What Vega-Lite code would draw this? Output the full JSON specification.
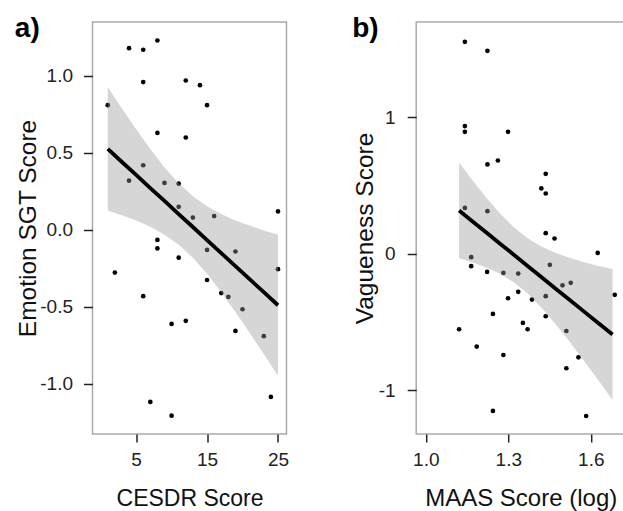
{
  "$schema": "https://vega.github.io/schema/vega-lite/v6.json",
  "padding": {"left": 13.5, "top": 14, "right": 0, "bottom": 0},
  "spacing": 61.7,
  "config": {
    "locale": {"number": {"decimal": ".", "thousands": ",", "grouping": [3], "currency": ["$", ""], "minus": "-"}},
    "view": {"stroke": "#aaaaaa", "strokeWidth": 1.5},
    "font": "Liberation Sans",
    "axis": {"grid": false, "domain": false, "tickColor": "#222222", "tickWidth": 1.5, "labelColor": "#222222", "titleColor": "#111111", "labelFont": "Liberation Sans", "titleFont": "Liberation Sans", "titleFontWeight": "normal", "labelFontSize": 19, "titleFontSize": 24}
  },
  "datasets": {
    "labA": [{"lab": "a)"}],
    "labB": [{"lab": "b)"}],
    "ptsA": [
      {"x": 1, "y": 0.81}, {"x": 4, "y": 1.18}, {"x": 6, "y": 1.17}, {"x": 8, "y": 1.23}, {"x": 6, "y": 0.96},
      {"x": 12, "y": 0.97}, {"x": 14, "y": 0.94}, {"x": 15, "y": 0.81}, {"x": 8, "y": 0.63}, {"x": 12, "y": 0.60},
      {"x": 6, "y": 0.42}, {"x": 4, "y": 0.32}, {"x": 9, "y": 0.305}, {"x": 11, "y": 0.30}, {"x": 11, "y": 0.15},
      {"x": 13, "y": 0.08}, {"x": 16, "y": 0.09}, {"x": 25, "y": 0.12}, {"x": 8, "y": -0.065}, {"x": 8, "y": -0.12},
      {"x": 15, "y": -0.13}, {"x": 19, "y": -0.14}, {"x": 11, "y": -0.18}, {"x": 2, "y": -0.277}, {"x": 25, "y": -0.255},
      {"x": 15, "y": -0.325}, {"x": 6, "y": -0.43}, {"x": 17, "y": -0.41}, {"x": 18, "y": -0.435}, {"x": 20, "y": -0.515},
      {"x": 10, "y": -0.61}, {"x": 12, "y": -0.59}, {"x": 19, "y": -0.656}, {"x": 23, "y": -0.69}, {"x": 7, "y": -1.117},
      {"x": 10, "y": -1.206}, {"x": 24, "y": -1.084}
    ],
    "bandA": [
      {"x": 1, "fit": 0.526, "lo": 0.126, "hi": 0.926},
      {"x": 3, "fit": 0.441, "lo": 0.095, "hi": 0.788},
      {"x": 5, "fit": 0.357, "lo": 0.061, "hi": 0.653},
      {"x": 7, "fit": 0.272, "lo": 0.020, "hi": 0.525},
      {"x": 9, "fit": 0.188, "lo": -0.031, "hi": 0.406},
      {"x": 11, "fit": 0.103, "lo": -0.096, "hi": 0.303},
      {"x": 13, "fit": 0.019, "lo": -0.181, "hi": 0.218},
      {"x": 15, "fit": -0.066, "lo": -0.285, "hi": 0.153},
      {"x": 17, "fit": -0.151, "lo": -0.404, "hi": 0.103},
      {"x": 19, "fit": -0.235, "lo": -0.533, "hi": 0.062},
      {"x": 21, "fit": -0.320, "lo": -0.668, "hi": 0.028},
      {"x": 23, "fit": -0.404, "lo": -0.806, "hi": -0.003},
      {"x": 25, "fit": -0.489, "lo": -0.947, "hi": -0.031}
    ],
    "ptsB": [
      {"x": 1.142, "y": 1.555}, {"x": 1.224, "y": 1.489}, {"x": 1.142, "y": 0.937}, {"x": 1.142, "y": 0.895}, {"x": 1.299, "y": 0.895},
      {"x": 1.224, "y": 0.656}, {"x": 1.262, "y": 0.685}, {"x": 1.436, "y": 0.587}, {"x": 1.42, "y": 0.48}, {"x": 1.436, "y": 0.443},
      {"x": 1.142, "y": 0.337}, {"x": 1.224, "y": 0.313}, {"x": 1.436, "y": 0.152}, {"x": 1.468, "y": 0.113}, {"x": 1.625, "y": 0.007},
      {"x": 1.165, "y": -0.024}, {"x": 1.165, "y": -0.09}, {"x": 1.223, "y": -0.132}, {"x": 1.282, "y": -0.139}, {"x": 1.336, "y": -0.144},
      {"x": 1.451, "y": -0.08}, {"x": 1.497, "y": -0.23}, {"x": 1.527, "y": -0.212}, {"x": 1.336, "y": -0.278}, {"x": 1.299, "y": -0.325},
      {"x": 1.386, "y": -0.335}, {"x": 1.436, "y": -0.31}, {"x": 1.687, "y": -0.30}, {"x": 1.244, "y": -0.44}, {"x": 1.436, "y": -0.457},
      {"x": 1.353, "y": -0.506}, {"x": 1.37, "y": -0.552}, {"x": 1.121, "y": -0.552}, {"x": 1.511, "y": -0.565}, {"x": 1.185, "y": -0.679},
      {"x": 1.282, "y": -0.741}, {"x": 1.555, "y": -0.758}, {"x": 1.511, "y": -0.838}, {"x": 1.244, "y": -1.151}, {"x": 1.583, "y": -1.188}
    ],
    "bandB": [
      {"x": 1.121, "fit": 0.318, "lo": -0.032, "hi": 0.668},
      {"x": 1.17, "fit": 0.238, "lo": -0.062, "hi": 0.538},
      {"x": 1.22, "fit": 0.157, "lo": -0.099, "hi": 0.412},
      {"x": 1.27, "fit": 0.075, "lo": -0.146, "hi": 0.296},
      {"x": 1.32, "fit": -0.006, "lo": -0.208, "hi": 0.196},
      {"x": 1.37, "fit": -0.088, "lo": -0.291, "hi": 0.115},
      {"x": 1.42, "fit": -0.169, "lo": -0.393, "hi": 0.055},
      {"x": 1.47, "fit": -0.251, "lo": -0.510, "hi": 0.009},
      {"x": 1.52, "fit": -0.332, "lo": -0.637, "hi": -0.027},
      {"x": 1.57, "fit": -0.414, "lo": -0.770, "hi": -0.058},
      {"x": 1.62, "fit": -0.495, "lo": -0.906, "hi": -0.084},
      {"x": 1.679, "fit": -0.591, "lo": -1.071, "hi": -0.111}
    ]
  },
  "hconcat": [
    {
      "width": 194, "height": 412,
      "layer": [
        {
          "data": {"name": "ptsA"},
          "mark": {"type": "point", "filled": true, "size": 22, "color": "#000000", "opacity": 1},
          "encoding": {
            "x": {"field": "x", "type": "quantitative", "title": "CESDR Score", "scale": {"domain": [-1.15, 26.2], "nice": false, "zero": false},
                  "axis": {"values": [5, 15, 25], "tickSize": 8, "labelPadding": 8.6, "titlePadding": 41, "minExtent": 30, "maxExtent": 30, "titleBaseline": "alphabetic", "titleFontSize": 23}},
            "y": {"field": "y", "type": "quantitative", "title": "Emotion SGT Score", "scale": {"domain": [-1.325, 1.35], "nice": false, "zero": false},
                  "axis": {"values": [-1, -0.5, 0, 0.5, 1], "format": ".1f", "tickSize": 9, "labelPadding": 11, "titlePadding": 4.3, "titleBaseline": "alphabetic", "titleFontSize": 24.5}}
          }
        },
        {
          "data": {"name": "bandA"},
          "mark": {"type": "area", "color": "#999999", "opacity": 0.4},
          "encoding": {
            "x": {"field": "x", "type": "quantitative", "title": "CESDR Score", "scale": {"domain": [-1.15, 26.2], "nice": false, "zero": false}},
            "y": {"field": "lo", "type": "quantitative", "title": "Emotion SGT Score", "scale": {"domain": [-1.325, 1.35], "nice": false, "zero": false}},
            "y2": {"field": "hi"}
          }
        },
        {
          "data": {"name": "bandA"},
          "mark": {"type": "line", "color": "#000000", "strokeWidth": 3.8},
          "encoding": {
            "x": {"field": "x", "type": "quantitative", "title": "CESDR Score", "scale": {"domain": [-1.15, 26.2], "nice": false, "zero": false}},
            "y": {"field": "fit", "type": "quantitative", "title": "Emotion SGT Score", "scale": {"domain": [-1.325, 1.35], "nice": false, "zero": false}}
          }
        },
        {
          "data": {"name": "labA"},
          "mark": {"type": "text", "align": "left", "baseline": "alphabetic", "fontSize": 28, "fontWeight": "bold", "font": "Liberation Sans", "color": "#000000"},
          "encoding": {
            "x": {"datum": -12.1, "type": "quantitative", "scale": {"domain": [-1.15, 26.2], "nice": false, "zero": false}},
            "y": {"datum": 1.2526, "type": "quantitative", "scale": {"domain": [-1.325, 1.35], "nice": false, "zero": false}},
            "text": {"field": "lab"}
          }
        }
      ]
    },
    {
      "width": 209, "height": 412,
      "layer": [
        {
          "data": {"name": "ptsB"},
          "mark": {"type": "point", "filled": true, "size": 22, "color": "#000000", "opacity": 1},
          "encoding": {
            "x": {"field": "x", "type": "quantitative", "title": "MAAS Score (log)", "scale": {"domain": [0.965, 1.725], "nice": false, "zero": false},
                  "axis": {"values": [1.0, 1.3, 1.6], "format": ".1f", "tickSize": 8, "labelPadding": 8.6, "titlePadding": 41, "minExtent": 30, "maxExtent": 30, "titleBaseline": "alphabetic", "titleFontSize": 24}},
            "y": {"field": "y", "type": "quantitative", "title": "Vagueness Score", "scale": {"domain": [-1.32, 1.70], "nice": false, "zero": false},
                  "axis": {"values": [-1, 0, 1], "format": "d", "tickSize": 9, "labelPadding": 12, "titlePadding": 6, "titleBaseline": "alphabetic", "titleFontSize": 24.5}}
          }
        },
        {
          "data": {"name": "bandB"},
          "mark": {"type": "area", "color": "#999999", "opacity": 0.4},
          "encoding": {
            "x": {"field": "x", "type": "quantitative", "title": "MAAS Score (log)", "scale": {"domain": [0.965, 1.725], "nice": false, "zero": false}},
            "y": {"field": "lo", "type": "quantitative", "title": "Vagueness Score", "scale": {"domain": [-1.32, 1.70], "nice": false, "zero": false}},
            "y2": {"field": "hi"}
          }
        },
        {
          "data": {"name": "bandB"},
          "mark": {"type": "line", "color": "#000000", "strokeWidth": 3.8},
          "encoding": {
            "x": {"field": "x", "type": "quantitative", "title": "MAAS Score (log)", "scale": {"domain": [0.965, 1.725], "nice": false, "zero": false}},
            "y": {"field": "fit", "type": "quantitative", "title": "Vagueness Score", "scale": {"domain": [-1.32, 1.70], "nice": false, "zero": false}}
          }
        },
        {
          "data": {"name": "labB"},
          "mark": {"type": "text", "align": "left", "baseline": "alphabetic", "fontSize": 28, "fontWeight": "bold", "font": "Liberation Sans", "color": "#000000"},
          "encoding": {
            "x": {"datum": 0.7323, "type": "quantitative", "scale": {"domain": [0.965, 1.725], "nice": false, "zero": false}},
            "y": {"datum": 1.590, "type": "quantitative", "scale": {"domain": [-1.32, 1.70], "nice": false, "zero": false}},
            "text": {"field": "lab"}
          }
        }
      ]
    }
  ]
}
